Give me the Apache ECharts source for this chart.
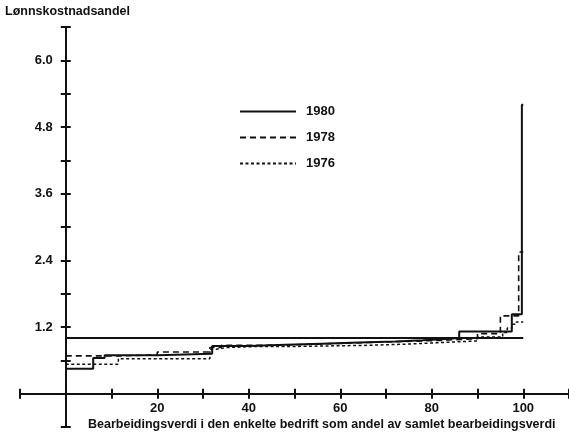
<!DOCTYPE html>
<html>
<head>
<meta charset="utf-8">
<script src="https://cdn.jsdelivr.net/npm/echarts@6/dist/echarts.min.js"></script>
<style>
  html, body { margin: 0; padding: 0; background: #fff; }
  #chart { width: 569px; height: 434px; }
</style>
</head>
<body>
<div id="chart"></div>
<script>
    // verdier lest av figuren (trinnkurver, x = kumulativ andel, y = lønnskostnadsandel)
    var years = ['1980', '1978', '1976']
    var x1980 = [0, 6, 8.5, 20, 32, 40, 48, 56, 64, 72, 78, 82, 86, 97.5, 99.7, 100]
    var y1980 = [0.45, 0.64, 0.69, 0.72, 0.86, 0.88, 0.9, 0.92, 0.94, 0.96, 0.98, 1.0, 1.12, 1.43, 5.2, 5.2]
    var x1978 = [0, 12, 20, 31.5, 34, 42, 50, 58, 66, 74, 82, 90, 95, 99, 100]
    var y1978 = [0.68, 0.7, 0.75, 0.83, 0.87, 0.88, 0.9, 0.92, 0.94, 0.96, 0.99, 1.08, 1.4, 2.55, 2.55]
    var x1976 = [0, 11.5, 31.5, 33, 35, 42, 50, 58, 66, 74, 82, 90, 95.5, 96.5, 97.5, 98.5, 100]
    var y1976 = [0.53, 0.63, 0.8, 0.83, 0.85, 0.85, 0.86, 0.87, 0.89, 0.92, 0.95, 1.02, 1.1, 1.18, 1.25, 1.29, 1.29]
    var xRef = [0, 100]
    var yRef = [1.0, 1.0]

    function pairs (xs, ys) {
        var out = []
        for (var i = 0; i < xs.length; i++) {
            out.push([xs[i], ys[i]])
        }
        return out
    }

    var ink = '#111'
    var font = 'Liberation Sans, Arial, sans-serif'

    // grid 0: hele aksekorset (-10..110, -0.6..6.6), grid 1: bare tallene langs aksene (fra 0)
    var gLeft = 20, gTop = 27, gW = 549, gH = 400
    var x0px = gLeft + gW * 10 / 120
    var y0px = gTop + gH * 6.6 / 7.2

    var chart = echarts.init(document.getElementById('chart'))

    var tickStyle = {color: ink, width: 2}

    chart.setOption({
        backgroundColor: '#fff',
        animation: false,
        title: [
            {text: 'Lønnskostnadsandel', left: 5, top: 5, padding: 0,
                textStyle: {fontFamily: font, fontSize: 12.5, fontWeight: 'bold', color: ink}},
            {text: 'Bearbeidingsverdi i den enkelte bedrift som andel av samlet bearbeidingsverdi', left: 88, top: 418, padding: 0,
                textStyle: {fontFamily: font, fontSize: 12.5, fontWeight: 'bold', color: ink}}
        ],
        legend: {
            data: years,
            orient: 'vertical',
            left: 234,
            top: 100,
            itemWidth: 56,
            itemHeight: 14,
            itemGap: 13,
            itemStyle: {opacity: 0},
            textStyle: {fontFamily: font, fontSize: 13, fontWeight: 'bold', color: ink, padding: [0, 0, 0, 5]}
        },
        grid: [
            {left: gLeft, top: gTop, width: gW, height: gH, containLabel: false, outerBoundsMode: 'none'},
            {left: x0px, top: gTop, right: 0, bottom: 434 - y0px, containLabel: false, outerBoundsMode: 'none'}
        ],
        xAxis: [
            {
                gridIndex: 0, type: 'value', min: -10, max: 110, interval: 10, position: 'bottom',
                splitLine: {show: false},
                axisLine: {show: true, onZero: true, lineStyle: {color: ink, width: 2}},
                axisTick: {show: true, inside: false, length: 5, lineStyle: tickStyle},
                axisLabel: {show: false}
            },
            {
                gridIndex: 0, type: 'value', min: -10, max: 110, interval: 10, position: 'bottom',
                splitLine: {show: false},
                axisLine: {show: false, onZero: true},
                axisTick: {show: true, inside: true, length: 5, lineStyle: tickStyle},
                axisLabel: {show: false}
            },
            {
                gridIndex: 1, type: 'value', min: 0, max: 110, interval: 10, position: 'bottom',
                splitLine: {show: false},
                axisLine: {show: false},
                axisTick: {show: false},
                axisLabel: {
                    margin: 8,
                    fontFamily: font, fontSize: 13, fontWeight: 'bold', color: ink,
                    formatter: function (v) {
                        return (v > 0 && Math.round(v) % 20 === 0) ? String(Math.round(v)) : ''
                    }
                }
            }
        ],
        yAxis: [
            {
                gridIndex: 0, type: 'value', min: -0.6, max: 6.6, interval: 0.6, position: 'left',
                splitLine: {show: false},
                axisLine: {show: true, onZero: true, lineStyle: {color: ink, width: 2}},
                axisTick: {show: true, inside: false, length: 5, lineStyle: tickStyle},
                axisLabel: {show: false}
            },
            {
                gridIndex: 0, type: 'value', min: -0.6, max: 6.6, interval: 0.6, position: 'left',
                splitLine: {show: false},
                axisLine: {show: false, onZero: true},
                axisTick: {show: true, inside: true, length: 5, lineStyle: tickStyle},
                axisLabel: {show: false}
            },
            {
                gridIndex: 1, type: 'value', min: 0, max: 6.6, interval: 0.6, position: 'left',
                splitLine: {show: false},
                axisLine: {show: false},
                axisTick: {show: false},
                axisLabel: {
                    margin: 13,
                    fontFamily: font, fontSize: 13, fontWeight: 'bold', color: ink,
                    formatter: function (v) {
                        var t = Math.round(v * 10)
                        return (t > 0 && t % 12 === 0) ? (t / 10).toFixed(1) : ''
                    }
                }
            }
        ],
        series: [
            {
                name: '1980', type: 'line', step: 'end', symbol: 'none',
                xAxisIndex: 0, yAxisIndex: 0,
                data: pairs(x1980, y1980),
                lineStyle: {color: ink, width: 2, type: 'solid'},
                itemStyle: {color: ink}
            },
            {
                name: '1978', type: 'line', step: 'end', symbol: 'none',
                xAxisIndex: 0, yAxisIndex: 0,
                data: pairs(x1978, y1978),
                lineStyle: {color: ink, width: 1.6, type: [6, 4]},
                itemStyle: {color: ink}
            },
            {
                name: '1976', type: 'line', step: 'end', symbol: 'none',
                xAxisIndex: 0, yAxisIndex: 0,
                data: pairs(x1976, y1976),
                lineStyle: {color: ink, width: 1.5, type: [3, 2.5]},
                itemStyle: {color: ink}
            },
            {
                name: 'ref', type: 'line', symbol: 'none',
                xAxisIndex: 0, yAxisIndex: 0,
                data: pairs(xRef, yRef),
                lineStyle: {color: ink, width: 2},
                itemStyle: {color: ink}
            }
        ]
    })
</script>
</body>
</html>
